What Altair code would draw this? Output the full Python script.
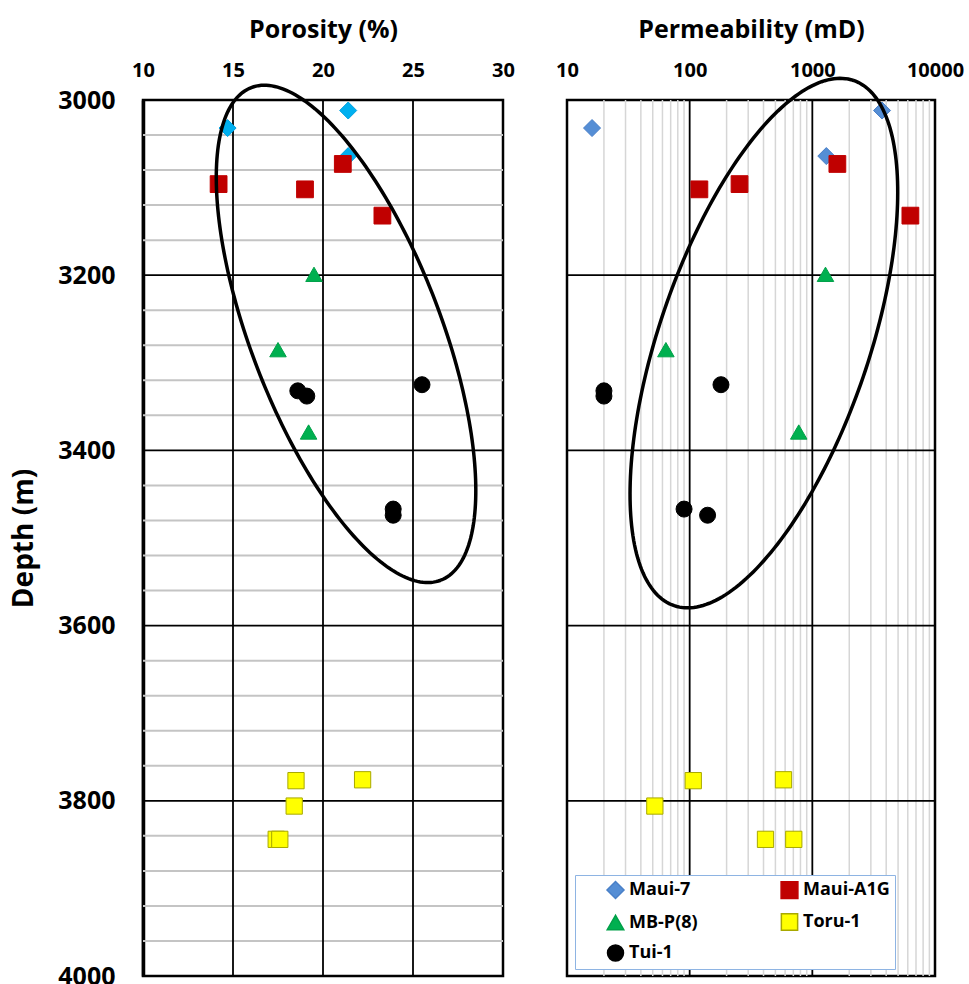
import math
import altair as alt
import pandas as pd

WELL_ORDER = ["Maui-7", "Maui-A1G", "MB-P(8)", "Toru-1", "Tui-1"]

# Core plug measurements per well: depth (m), porosity (%), permeability (mD)
maui7_depth = [3012, 3032, 3064]
maui7_porosity = [21.4, 14.7, 21.4]
maui7_perm = [3700, 16, 1300]

maui_a1g_depth = [3073, 3096, 3102, 3132]
maui_a1g_porosity = [21.1, 14.2, 19.0, 23.3]
maui_a1g_perm = [1600, 255, 120, 6300]

mbp8_depth = [3199, 3285, 3379]
mbp8_porosity = [19.5, 17.5, 19.2]
mbp8_perm = [1280, 64, 775]

toru1_depth = [3777, 3776, 3806, 3844, 3844]
toru1_porosity = [18.5, 22.2, 18.4, 17.4, 17.6]
toru1_perm = [107, 582, 52, 415, 706]

tui1_depth = [3325, 3332, 3338, 3467, 3474]
tui1_porosity = [25.5, 18.6, 19.1, 23.9, 23.9]
tui1_perm = [180, 20, 20, 90, 140]

# Axis ticks
porosity_ticks = [10, 15, 20, 25, 30]
perm_ticks = [10, 100, 1000, 10000]
depth_ticks = [3000, 3200, 3400, 3600, 3800, 4000]

# Marker styling per well
left_colors = ["#00B0F0", "#C00000", "#00B050", "#FFFF00", "#000000"]
right_colors = ["#558ED5", "#C00000", "#00B050", "#FFFF00", "#000000"]
left_strokes = ["#00A0E0", "#C00000", "#00A048", "#A8A800", "#000000"]
right_strokes = ["#4A80C8", "#C00000", "#00A048", "#A8A800", "#000000"]
shapes = ["diamond", "square", "triangle-up", "square", "circle"]
sizes = [290, 256, 290, 300, 150]

wells = {
    "Maui-7": (maui7_depth, maui7_porosity, maui7_perm),
    "Maui-A1G": (maui_a1g_depth, maui_a1g_porosity, maui_a1g_perm),
    "MB-P(8)": (mbp8_depth, mbp8_porosity, mbp8_perm),
    "Toru-1": (toru1_depth, toru1_porosity, toru1_perm),
    "Tui-1": (tui1_depth, tui1_porosity, tui1_perm),
}
rows = []
for name, (d, p, k) in wells.items():
    for dd, pp, kk in zip(d, p, k):
        rows.append({"well": name, "depth": dd, "poro": pp, "perm": kk})
points = pd.DataFrame(rows)

# Grid lines
major_depths = pd.DataFrame({"depth": [3200, 3400, 3600, 3800]})
minor_depths = pd.DataFrame({"depth": [d for d in range(3040, 4000, 40) if d % 200 != 0]})
poro_major = pd.DataFrame({"poro": [15, 20, 25]})
perm_major = pd.DataFrame({"perm": [100, 1000]})
perm_minor = pd.DataFrame({"perm": [m * 10 ** e for e in (1, 2, 3) for m in range(2, 10)]})


def ellipse(center, major, minor, n=241):
    """Outline from a centre and two conjugate semi-axis vectors."""
    out = []
    for i in range(n):
        t = 2 * math.pi * i / (n - 1)
        out.append((i,
                    center[0] + major[0] * math.cos(t) + minor[0] * math.sin(t),
                    center[1] + major[1] * math.cos(t) + minor[1] * math.sin(t)))
    return out


# Cluster outlines (porosity in %, depth in m; permeability in log10 mD)
poro_ring = pd.DataFrame(
    [{"i": i, "poro": x, "depth": y}
     for i, x, y in ellipse((21.28, 3267), (5.26, 281.2), (4.93, -38.8))])
perm_ring = pd.DataFrame(
    [{"i": i, "perm": 10 ** x, "depth": y}
     for i, x, y in ellipse((2.605, 3277.5), (0.731, -299.8), (0.810, 38.4))])

FONT = "Open Sans"
depth_scale = alt.Scale(domain=[3000, 4000], reverse=True, nice=False, zero=False)
poro_scale = alt.Scale(domain=[10, 30], nice=False, zero=False)
perm_scale = alt.Scale(type="log", domain=[10, 10000], nice=False)

y_axis_left = alt.Axis(
    orient="left", values=depth_ticks, format="d", ticks=False, grid=False,
    domain=True, domainColor="black", domainWidth=3.5,
    labelFontSize=25, labelFontWeight="bold", labelPadding=28, labelColor="black",
    title="Depth (m)", titleFontSize=28, titleFontWeight="bold", titlePadding=19,
    titleColor="black",
)


def top_axis(values, title, fmt):
    return alt.Axis(
        orient="top", values=values, format=fmt, ticks=False, grid=False, domain=False,
        labelFontSize=20, labelFontWeight="bold", labelPadding=20, labelColor="black",
        labelOverlap=False, labelFlush=False,
        title=title, titleFontSize=25, titleFontWeight="bold", titlePadding=18,
        titleColor="black",
    )


x_poro = alt.X("poro:Q", scale=poro_scale, axis=top_axis(porosity_ticks, "Porosity (%)", "d"))
y_left = alt.Y("depth:Q", scale=depth_scale, axis=y_axis_left)
x_perm = alt.X("perm:Q", scale=perm_scale, axis=top_axis(perm_ticks, "Permeability (mD)", "d"))
y_right = alt.Y("depth:Q", scale=depth_scale, axis=None)

# Porosity panel
left = alt.layer(
    alt.Chart(minor_depths).mark_rule(color="#C4C4C4", strokeWidth=2).encode(y=y_left),
    alt.Chart(major_depths).mark_rule(color="black", strokeWidth=1.8).encode(y=y_left),
    alt.Chart(poro_major).mark_rule(color="black", strokeWidth=1.8).encode(x=x_poro),
    alt.Chart(points).mark_point(filled=True, opacity=1, strokeWidth=1).encode(
        x=x_poro, y=y_left,
        color=alt.Color("well:N", scale=alt.Scale(domain=WELL_ORDER, range=left_colors), legend=None),
        stroke=alt.Stroke("well:N", scale=alt.Scale(domain=WELL_ORDER, range=left_strokes), legend=None),
        shape=alt.Shape("well:N", scale=alt.Scale(domain=WELL_ORDER, range=shapes), legend=None),
        size=alt.Size("well:N", scale=alt.Scale(domain=WELL_ORDER, range=sizes), legend=None),
    ),
    alt.Chart(poro_ring).mark_line(color="black", strokeWidth=3.5).encode(
        x=x_poro, y=y_left, order="i:Q"),
).properties(width=360, height=876)

# Framed legend in the lower part of the permeability panel
legend = alt.Legend(
    orient="none", legendX=8, legendY=775, columns=2, direction="horizontal", title=None,
    labelFontSize=18, labelFontWeight="bold", labelColor="black", labelFont=FONT,
    symbolSize=160, symbolOffset=26, labelOffset=4, columnPadding=56, rowPadding=8,
    padding=5, strokeColor="#8EB4E3", fillColor="white",
)

# Permeability panel
right = alt.layer(
    alt.Chart(perm_minor).mark_rule(color="#D6D6D6", strokeWidth=1.5).encode(x=x_perm),
    alt.Chart(perm_major).mark_rule(color="black", strokeWidth=1.8).encode(x=x_perm),
    alt.Chart(major_depths).mark_rule(color="black", strokeWidth=1.8).encode(y=y_right),
    alt.Chart(points).mark_point(filled=True, opacity=1, strokeWidth=1).encode(
        x=x_perm, y=y_right,
        color=alt.Color("well:N", scale=alt.Scale(domain=WELL_ORDER, range=right_colors), legend=legend),
        stroke=alt.Stroke("well:N", scale=alt.Scale(domain=WELL_ORDER, range=right_strokes), legend=legend),
        shape=alt.Shape("well:N", scale=alt.Scale(domain=WELL_ORDER, range=shapes), legend=legend),
        size=alt.Size("well:N", scale=alt.Scale(domain=WELL_ORDER, range=sizes), legend=None),
    ),
    alt.Chart(perm_ring).mark_line(color="black", strokeWidth=3.5).encode(
        x=x_perm, y=y_right, order="i:Q"),
).properties(width=368, height=876)

chart = (
    alt.hconcat(left, right, spacing=64, bounds="flush")
    .resolve_scale(color="independent", stroke="independent", shape="independent",
                   size="independent", x="independent")
    .resolve_legend(color="independent", stroke="independent", shape="independent")
    .properties(padding={"left": 9, "top": 15, "right": 0, "bottom": 0})
    .configure(font=FONT)
    .configure_view(stroke="black", strokeWidth=2.5)
    .configure_axis(labelFont=FONT, titleFont=FONT)
)

chart.save("out.html", embed_options={"renderer": "svg", "actions": False})
